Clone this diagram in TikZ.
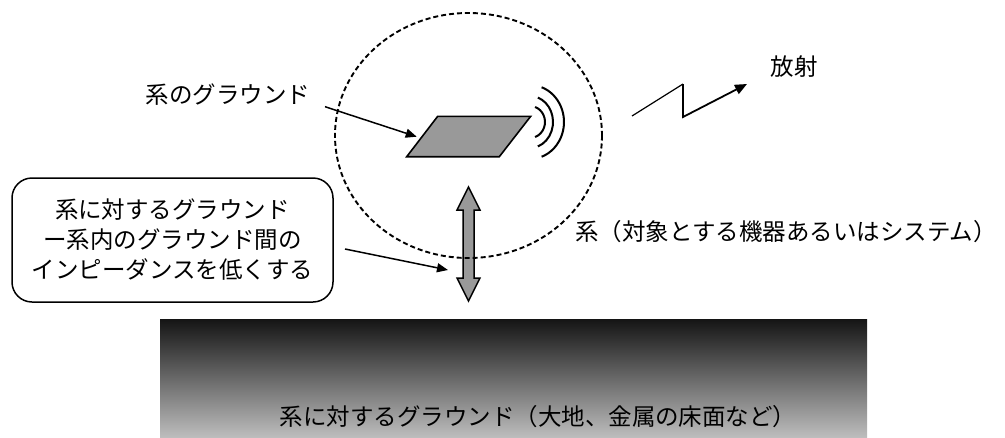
\documentclass[tikz,border=0pt]{standalone}
\usepackage{fontspec}
\newfontfamily\jp{Noto Sans CJK JP}
\usetikzlibrary{arrows.meta}
\begin{document}
\begin{tikzpicture}[x=1pt,y=-1pt,
  lbl/.style={font=\jp\fontsize{23.5}{30}\selectfont, inner sep=0pt, align=center},
  conn/.style={line width=1.5pt, -{Triangle[length=11pt,width=9pt]}},
  grayfill/.style={fill=black!40, draw=black, line width=1.6pt},
  sysline/.style={dashed, dash pattern=on 5pt off 3pt, line width=1.9pt},
  wave/.style={line width=2pt},
  ]
\useasboundingbox (0,0) rectangle (1005,437);
% ground
\shade[top color=black!92, bottom color=black!26] (160,319) rectangle (867,437);
\node[lbl] (gnd) at (538,417) {系に対するグラウンド（大地、金属の床面など）};
% labels
\node[lbl] (sysgnd) at (228,95) {系のグラウンド};
\node[lbl] (rad) at (794,67) {放射};
\node[lbl] (sys) at (786,232) {系（対象とする機器あるいはシステム）};
% rounded box
\node[lbl, draw, line width=1.5pt, rounded corners=20pt, minimum width=321pt, minimum height=124pt] (box) at (172.5,240)
  {系に対するグラウンド\\ー系内のグラウンド間の\\インピーダンスを低くする};
% parallelogram
\draw[grayfill, line join=miter] (437.7,116.3) -- (530.7,116.3) -- (499.3,156.7) -- (406.7,156.7) -- cycle;
\coordinate (plate) at (416.7,136.7);
% waves
\draw[wave] (530,122) ++(-70:15 and 16) arc[start angle=-70, end angle=70, x radius=15, y radius=16];
\draw[wave] (530,122) ++(-70:23 and 26) arc[start angle=-70, end angle=70, x radius=23, y radius=26];
\draw[wave] (530,122) ++(-70:34 and 37) arc[start angle=-70, end angle=70, x radius=34, y radius=37];
% double arrow
\draw[grayfill, line width=1.5pt, line join=miter] (468.5,187) -- (480,210) -- (474,210) -- (474,278) -- (480,278) -- (468.5,301)
  -- (457,278) -- (463,278) -- (463,210) -- (457,210) -- cycle;
\coordinate (dbl) at (448,270);
% system boundary
\draw[sysline] (468.5,135.5) ellipse[x radius=133.5, y radius=122.5];
% connectors
\coordinate (s1) at (325,106.7);
\draw[conn] (s1) -- (plate);
\coordinate (s2) at (345,249);
\draw[conn] (s2) -- (dbl);
% radiation zigzag
\coordinate (z0) at (632,116);
\coordinate (z1) at (683,84);
\coordinate (z2) at (683,117);
\coordinate (z3) at (747,84);
\draw[line width=1.2pt] (z0) -- (z1);
\draw[line width=1.8pt, line join=miter, -{Triangle[length=12pt,width=10pt]}] (z1) -- (z2) -- (z3);
\end{tikzpicture}
\end{document}
